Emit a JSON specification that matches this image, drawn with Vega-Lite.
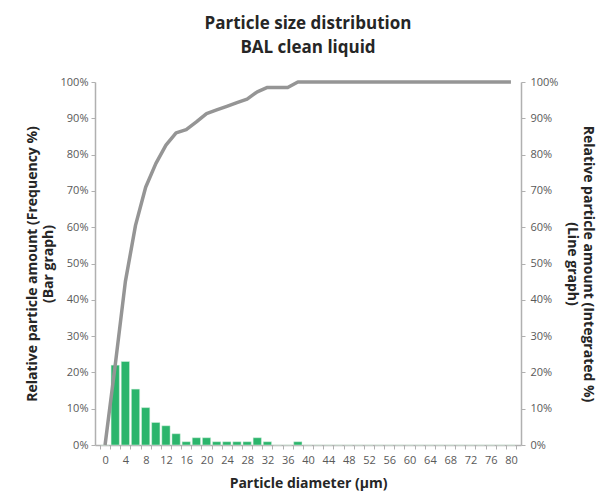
{
  "$schema": "https://vega.github.io/schema/vega-lite/v6.json",
  "autosize": {"type": "none"},
  "width": 426,
  "height": 363,
  "padding": {"left": 95, "top": 82, "right": 78, "bottom": 52},
  "background": "white",
  "config": {
    "font": "Open Sans",
    "view": {"stroke": null},
    "axis": {
      "grid": false,
      "domainColor": "#b0b0b0",
      "domainWidth": 1.5,
      "tickColor": "#b0b0b0",
      "tickWidth": 1,
      "tickSize": 4,
      "labelColor": "#595959",
      "labelFontSize": 11,
      "labelFont": "Open Sans",
      "titleFont": "Open Sans",
      "titleFontSize": 14,
      "titleFontWeight": "bold",
      "titleColor": "#262626"
    }
  },
  "title": {
    "text": ["Particle size distribution", "BAL clean liquid"],
    "fontSize": 17,
    "fontWeight": "bold",
    "font": "Open Sans",
    "color": "#262626",
    "lineHeight": 24,
    "anchor": "middle",
    "frame": "group",
    "offset": 19
  },
  "data": {
    "values": [
      {"d": 0, "freq": 0, "cum": 0},
      {"d": 2, "freq": 22, "cum": 22},
      {"d": 4, "freq": 23, "cum": 45},
      {"d": 6, "freq": 15.4, "cum": 60.5},
      {"d": 8, "freq": 10.3, "cum": 71},
      {"d": 10, "freq": 6.2, "cum": 77.5},
      {"d": 12, "freq": 5.3, "cum": 82.6},
      {"d": 14, "freq": 3.1, "cum": 86},
      {"d": 16, "freq": 0.9, "cum": 86.9},
      {"d": 18, "freq": 2, "cum": 89},
      {"d": 20, "freq": 2, "cum": 91.3},
      {"d": 22, "freq": 0.9, "cum": 92.3},
      {"d": 24, "freq": 0.9, "cum": 93.3},
      {"d": 26, "freq": 0.9, "cum": 94.3},
      {"d": 28, "freq": 0.9, "cum": 95.3},
      {"d": 30, "freq": 2, "cum": 97.3},
      {"d": 32, "freq": 0.9, "cum": 98.5},
      {"d": 34, "freq": 0, "cum": 98.5},
      {"d": 36, "freq": 0, "cum": 98.5},
      {"d": 38, "freq": 0.9, "cum": 100},
      {"d": 40, "freq": 0, "cum": 100},
      {"d": 42, "freq": 0, "cum": 100},
      {"d": 44, "freq": 0, "cum": 100},
      {"d": 46, "freq": 0, "cum": 100},
      {"d": 48, "freq": 0, "cum": 100},
      {"d": 50, "freq": 0, "cum": 100},
      {"d": 52, "freq": 0, "cum": 100},
      {"d": 54, "freq": 0, "cum": 100},
      {"d": 56, "freq": 0, "cum": 100},
      {"d": 58, "freq": 0, "cum": 100},
      {"d": 60, "freq": 0, "cum": 100},
      {"d": 62, "freq": 0, "cum": 100},
      {"d": 64, "freq": 0, "cum": 100},
      {"d": 66, "freq": 0, "cum": 100},
      {"d": 68, "freq": 0, "cum": 100},
      {"d": 70, "freq": 0, "cum": 100},
      {"d": 72, "freq": 0, "cum": 100},
      {"d": 74, "freq": 0, "cum": 100},
      {"d": 76, "freq": 0, "cum": 100},
      {"d": 78, "freq": 0, "cum": 100},
      {"d": 80, "freq": 0, "cum": 100}
    ]
  },
  "encoding": {
    "x": {
      "field": "d",
      "type": "quantitative",
      "scale": {"domain": [-1, 81], "nice": false, "zero": false},
      "axis": {
        "title": "Particle diameter (µm)",
        "values": [-1, 1, 3, 5, 7, 9, 11, 13, 15, 17, 19, 21, 23, 25, 27, 29, 31, 33, 35, 37, 39, 41, 43, 45, 47, 49, 51, 53, 55, 57, 59, 61, 63, 65, 67, 69, 71, 73, 75, 77, 79, 81],
        "labelExpr": "(datum.value + 1) % 4 == 0 ? '' + (datum.value + 1) : ''",
        "labelOffset": 5.2,
        "labelOverlap": false,
        "labelFlush": false,
        "labelPadding": 5,
        "titlePadding": 11
      }
    }
  },
  "layer": [
    {
      "mark": {"type": "bar", "size": 8.3, "color": "#2bb56c", "stroke": "#d8f0e0", "strokeWidth": 0.5},
      "encoding": {
        "y": {
          "field": "freq",
          "type": "quantitative",
          "scale": {"domain": [0, 100], "nice": false},
          "axis": {
            "orient": "left",
            "title": ["Relative particle amount (Frequency %)", "(Bar graph)"],
            "titleLineHeight": 16,
            "values": [0, 10, 20, 30, 40, 50, 60, 70, 80, 90, 100],
            "labelExpr": "datum.value + '%'",
            "labelPadding": 3,
            "titlePadding": 5
          }
        }
      }
    },
    {
      "mark": {"type": "line", "color": "#959595", "strokeWidth": 3.5, "strokeJoin": "round"},
      "encoding": {
        "y": {
          "field": "cum",
          "type": "quantitative",
          "scale": {"domain": [0, 100], "nice": false},
          "axis": {
            "orient": "right",
            "title": ["Relative particle amount (Integrated %)", "(Line graph)"],
            "titleLineHeight": 16,
            "values": [0, 10, 20, 30, 40, 50, 60, 70, 80, 90, 100],
            "labelExpr": "datum.value + '%'",
            "labelPadding": 5,
            "titlePadding": 7
          }
        }
      }
    }
  ],
  "resolve": {"scale": {"y": "independent"}, "axis": {"y": "independent"}}
}
